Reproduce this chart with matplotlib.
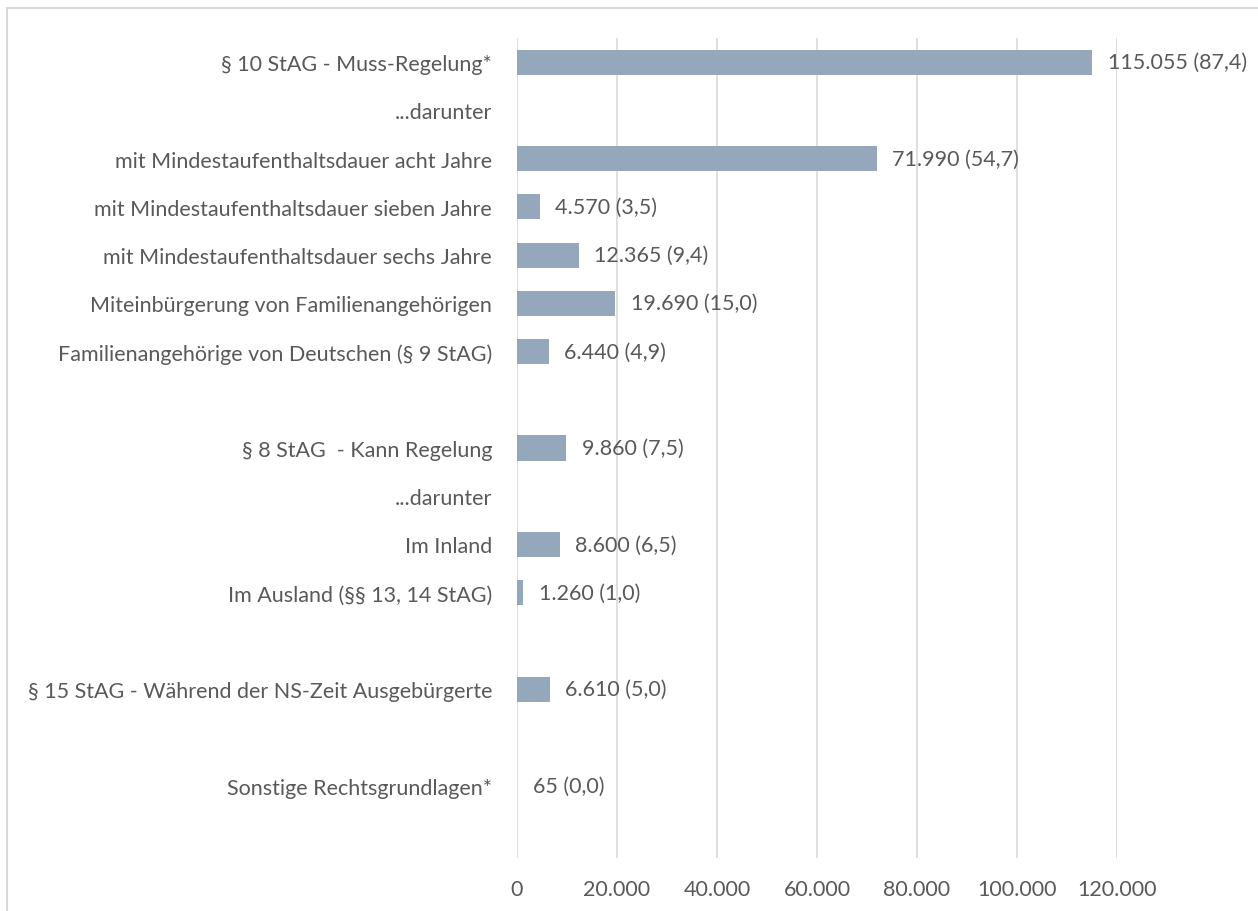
import numpy as np
import matplotlib.pyplot as plt
from matplotlib.patches import Rectangle

plt.rcParams['font.family'] = ['Lato', 'DejaVu Sans']

categories = ['§ 10 StAG - Muss-Regelung*', '...darunter',
              'mit Mindestaufenthaltsdauer acht Jahre',
              'mit Mindestaufenthaltsdauer sieben Jahre',
              'mit Mindestaufenthaltsdauer sechs Jahre',
              'Miteinbürgerung von Familienangehörigen',
              'Familienangehörige von Deutschen (§ 9 StAG)', '',
              '§ 8 StAG  - Kann Regelung', '...darunter', 'Im Inland',
              'Im Ausland (§§ 13, 14 StAG)', '',
              '§ 15 StAG - Während der NS-Zeit Ausgebürgerte', '',
              'Sonstige Rechtsgrundlagen*']
values = [115055, None, 71990, 4570, 12365, 19690, 6440, None,
          9860, None, 8600, 1260, None, 6610, None, 65]
percents = [87.4, None, 54.7, 3.5, 9.4, 15.0, 4.9, None,
            7.5, None, 6.5, 1.0, None, 5.0, None, 0.0]

text_col = '#595959'
bar_col = '#94A7BB'
grid_col = '#D9D9D9'
fs = 15.5

fig = plt.figure(figsize=(12.58, 9.12), dpi=100)
ax = fig.add_axes([517 / 1258, 1 - 859 / 912, 600 / 1258, 820 / 912])

y = np.arange(len(categories))
for yi, v, p in zip(y, values, percents):
    if v is None:
        continue
    ax.barh(yi, v, height=0.52, color=bar_col, zorder=2)
    lab = f"{v:,}".replace(',', '.') + f" ({p:.1f})".replace('.', ',')
    ax.annotate(lab, (v, yi), xytext=(11, 0), textcoords='offset points',
                va='center', ha='left', fontsize=fs, color=text_col)

ax.set_xlim(0, 120000)
ax.set_ylim(len(categories) + 0.5, -0.5)
ax.set_xticks(np.arange(0, 120001, 20000))
ax.set_xticklabels([f"{t:,}".replace(',', '.') for t in range(0, 120001, 20000)])
ax.set_yticks(y)
ax.set_yticklabels(categories)
ax.tick_params(axis='both', length=0, labelsize=fs, labelcolor=text_col)
ax.tick_params(axis='x', pad=15)
ax.tick_params(axis='y', pad=18)
ax.grid(axis='x', color=grid_col, linewidth=1.2, zorder=0)
ax.set_axisbelow(True)
for s in ax.spines.values():
    s.set_visible(False)

# chart area border (only left/top visible in the crop)
fig.add_artist(Rectangle((7 / 1258, -0.1), 1.2, 1 - 9 / 912 + 0.1,
                         transform=fig.transFigure, fill=False,
                         edgecolor=grid_col, linewidth=1.5))

fig.savefig('out.png', dpi=100)
